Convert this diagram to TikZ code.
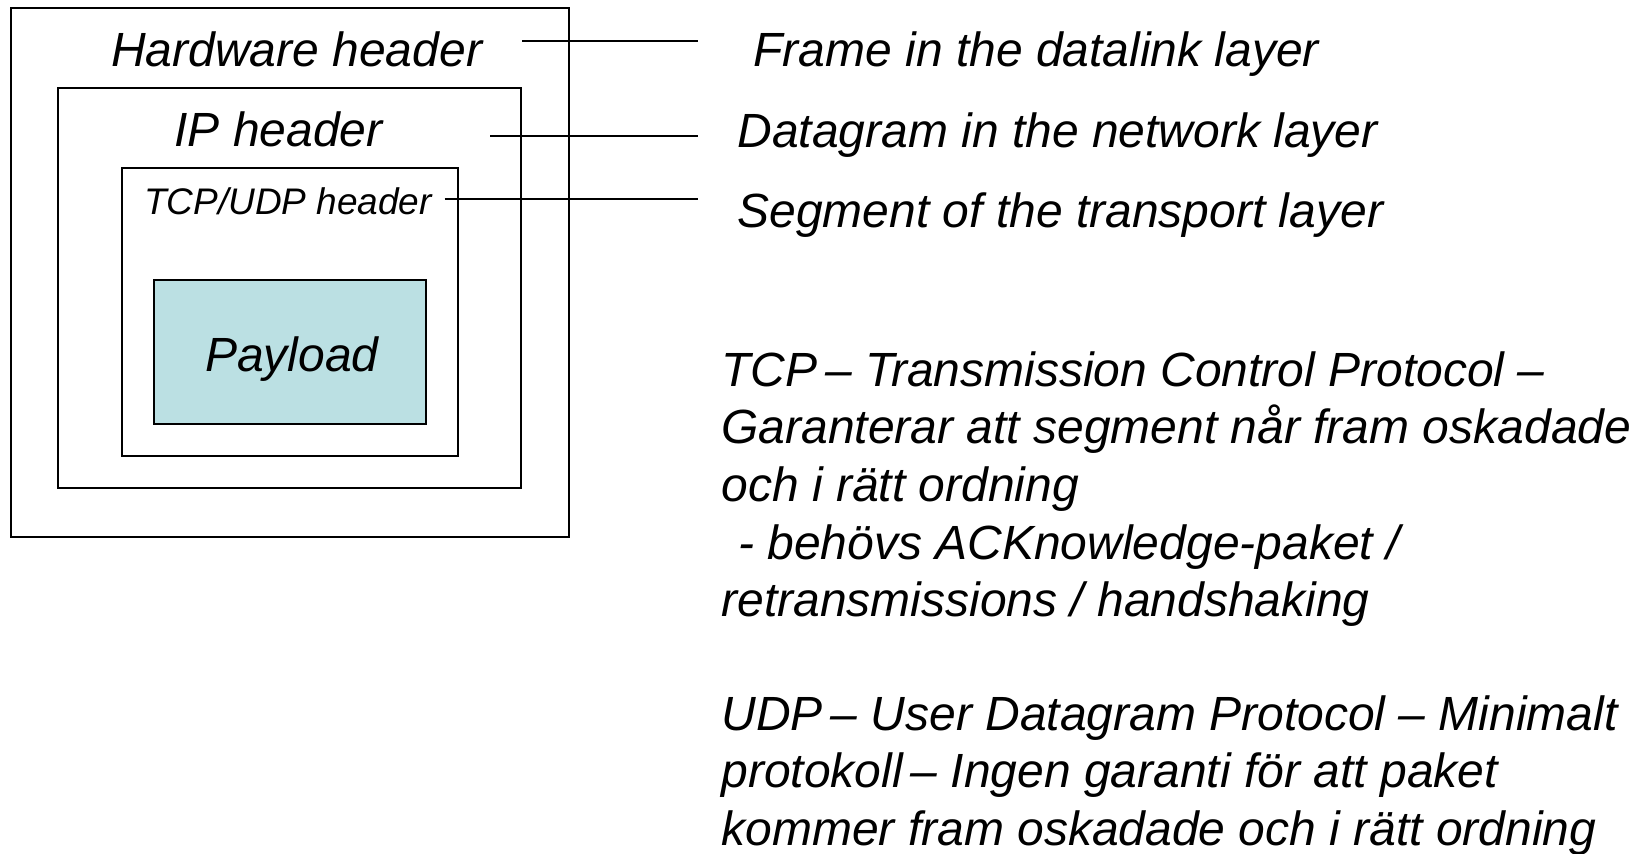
\documentclass[tikz,border=0pt]{standalone}
\usepackage{fontspec}
\setmainfont{Liberation Sans}
\usetikzlibrary{positioning}
\definecolor{payloadfill}{RGB}{187,224,227}

\begin{document}
\begin{tikzpicture}[x=0.5pt,y=0.5pt,yscale=-1,xscale=1,
    layerbox/.style={draw, line width=1pt, inner sep=0pt},
    lbl/.style={inner sep=0pt, font=\fontsize{24}{28.85}\selectfont\itshape},
    smalllbl/.style={inner sep=0pt, font=\fontsize{18.5}{22}\selectfont\itshape},
    leader/.style={line width=1pt}]
\useasboundingbox (0,0) rectangle (1644,853);

% nested boxes
\node [layerbox, minimum width=279.4pt, minimum height=264.2pt] (frame) at (289.9,272.6) {};
\node [layerbox, minimum width=231.7pt, minimum height=199.75pt] (dgram) at (289.4,287.85) {};
\node [layerbox, minimum width=168.3pt, minimum height=144.15pt] (segm) at (289.9,311.95) {};
\node [layerbox, fill=payloadfill, minimum width=135.8pt, minimum height=71.85pt] (payload) at (289.9,351.75) {};

% header texts
\node [lbl] (hwhead) at (296.7,49.3) {Hardware header};
\node [lbl] (iphead) at (278.5,129) {IP header};
\node [smalllbl] (tcphead) at (288,201) {TCP/UDP header};
\node [lbl, anchor=base] (payloadtxt) at ([xshift=1pt,yshift=9.8pt]payload.center) {Payload};

% layer names
\node [lbl, anchor=west] (framename) at (753,54) {Frame in the datalink layer};
\node [lbl, anchor=west] (dgramname) at (737,135) {Datagram in the network layer};
\node [lbl, anchor=west] (segmname) at (737,215) {Segment of the transport layer};

% leader lines
\coordinate (hwend) at (522,41);
\coordinate (ipend) at (490,135.5);
\coordinate (tcpend) at (444.6,199);
\coordinate (hwtip) at (698,41);
\coordinate (iptip) at (698,135.5);
\coordinate (tcptip) at (698,199);
\draw [leader] (hwend) -- (hwtip);
\draw [leader] (ipend) -- (iptip);
\draw [leader] (tcpend) -- (tcptip);

% protocol notes
\node [lbl, anchor=north west, align=left] (tcpnote) at (721,351) {TCP\,– Transmission Control Protocol –\\
Garanterar att segment når fram oskadade\\
och i rätt ordning\\
\hspace*{0.35em}- behövs ACKnowledge-paket /\\
retransmissions / handshaking};
\node [lbl, anchor=north west, align=left] (udpnote) at (721,695) {UDP\,– User Datagram Protocol – Minimalt\\
protokoll\,– Ingen garanti för att paket\\
kommer fram oskadade och i rätt ordning};
\end{tikzpicture}
\end{document}
